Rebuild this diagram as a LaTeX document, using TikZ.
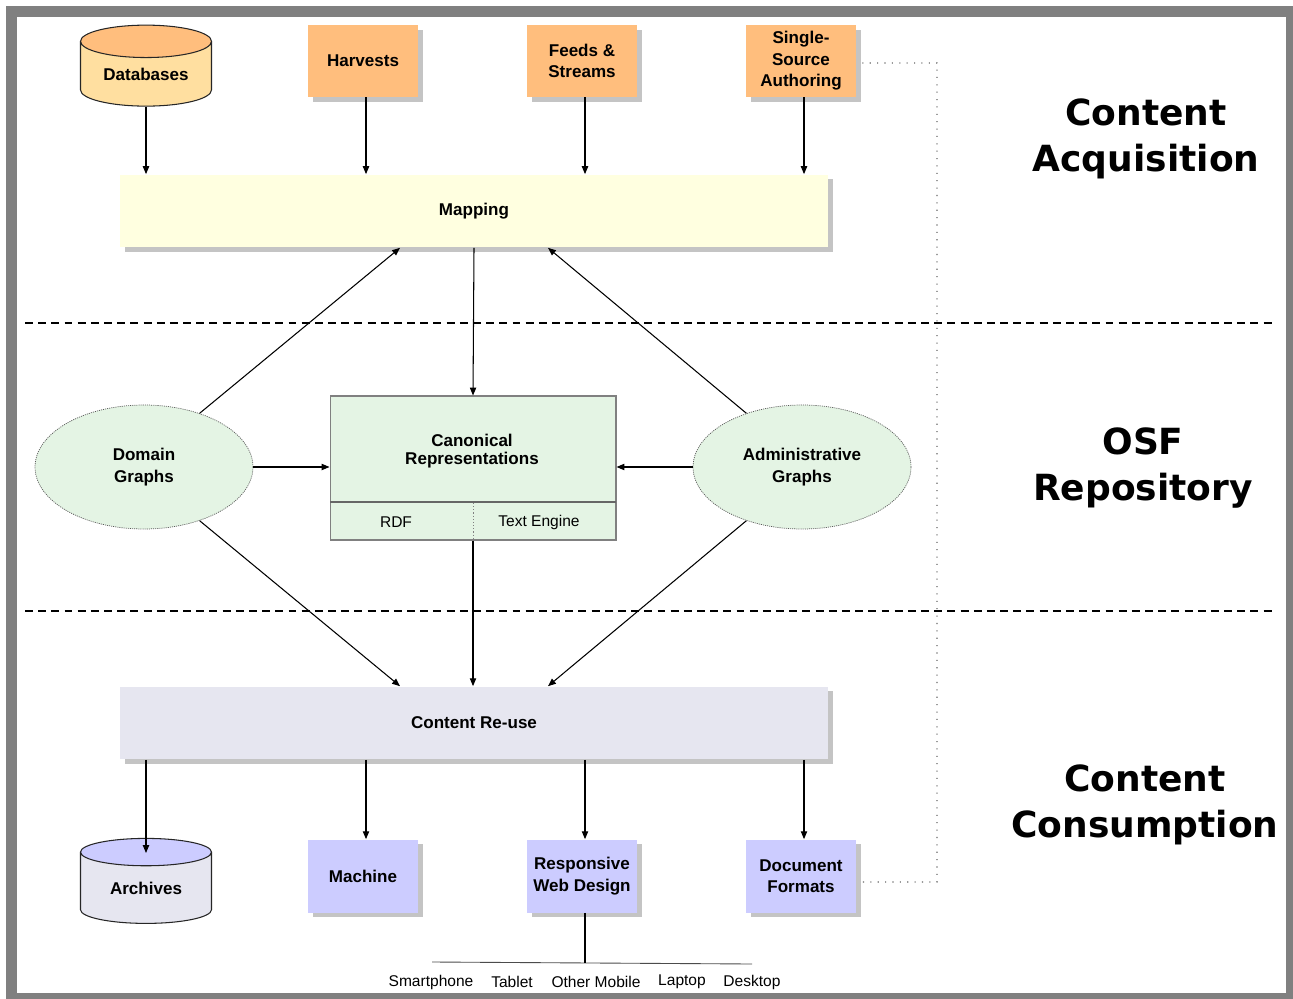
\documentclass[tikz,border=0pt]{standalone}
\usepackage{fontspec}
\setmainfont{Liberation Sans}
\newfontfamily\titlefont{DejaVu Sans}
\usetikzlibrary{arrows.meta,shapes.geometric,shadows}
\definecolor{framegray}{HTML}{808080}
\definecolor{shadowgray}{HTML}{C4C4C4}
\definecolor{srcorange}{HTML}{FFBE7D}
\definecolor{dbbody}{HTML}{FFDFA0}
\definecolor{mapyellow}{HTML}{FFFFE0}
\definecolor{graphgreen}{HTML}{E4F4E4}
\definecolor{reusegray}{HTML}{E6E6F0}
\definecolor{outblue}{HTML}{CCCCFF}
\tikzset{
  lbl/.style={font=\fontsize{9.7}{12.2}\selectfont\bfseries, align=center, inner sep=0pt},
  small/.style={font=\fontsize{8.85}{10.5}\selectfont, inner sep=0pt},
  boxshadow/.style={copy shadow={shadow xshift=2.8pt, shadow yshift=-2.8pt, fill=shadowgray, draw=none}},
  srcbox/.style={lbl, boxshadow, fill=srcorange, minimum width=2.2cm, minimum height=1.44cm},
  outbox/.style={lbl, boxshadow, fill=outblue, minimum width=2.2cm, minimum height=1.46cm},
  stage/.style={lbl, boxshadow, minimum width=14.16cm, minimum height=1.46cm},
  dbcyl/.style={lbl, cylinder, shape border rotate=90, aspect=0.38, draw=black!85, line width=0.6pt,
    cylinder uses custom fill, minimum width=2.62cm, minimum height=1.62cm},
  graphell/.style={lbl, ellipse, fill=graphgreen, draw=black!65, dash pattern=on 0.6pt off 0.6pt,
    minimum width=4.36cm, minimum height=2.48cm},
  flow/.style={-{Triangle[length=4.5pt,width=3.6pt]}, line width=0.6pt},
  zone/.style={line width=1.2pt, dash pattern=on 4.5pt off 3pt},
  linkdots/.style={black!60, line width=0.7pt, dash pattern=on 0.6pt off 3.6pt},
  heading/.style={font=\titlefont\bfseries\fontsize{20.5}{26}\selectfont, align=center}
}
\begin{document}
\begin{tikzpicture}[x=0.02cm,y=-0.02cm]
\useasboundingbox (0,0) rectangle (1293,999);
\fill[framegray] (6,6) rectangle (1293,999);
\fill[white] (17,17) rectangle (1286,993);

\draw[zone] (25,323) -- (1275,323);
\draw[zone] (25,611) -- (1275,611);

\node[dbcyl, cylinder end fill=srcorange, cylinder body fill=dbbody] (db) at (146,74) {Databases};
\node[srcbox] (harv) at (363,61) {Harvests};
\node[srcbox] (feeds) at (582,61) {Feeds \&\\Streams};
\node[srcbox] (ssa) at (801,61) {Single-\\Source\\Authoring};
\node[stage, fill=mapyellow] (map) at (474,211) {Mapping};

\node[graphell] (dom) at (144,467) {Domain\\Graphs};
\node[graphell] (adm) at (802,467) {Administrative\\Graphs};
\node[draw=black!50, line width=0.6pt, fill=graphgreen, minimum width=5.72cm, minimum height=2.88cm] (canon) at (473,468) {};
\node[lbl, font=\fontsize{9.7}{10.4}\selectfont\bfseries] (canontxt) at (472,451) {Canonical\\Representations};
\coordinate (divl) at (330,502);
\coordinate (divr) at (616,502);
\draw[black!60, line width=0.6pt] (divl) -- (divr);
\draw[black!50, line width=0.5pt, dash pattern=on 0.6pt off 1.2pt] (473,503) -- (473,540);
\node[small] (rdf) at (396,522) {RDF};
\node[small] (txteng) at (539,522) {Text Engine};

\node[stage, fill=reusegray] (reuse) at (474,723) {Content Re-use};
\node[dbcyl, cylinder end fill=outblue, cylinder body fill=reusegray, minimum height=1.7cm] (arch) at (146,888) {Archives};
\node[outbox] (mach) at (363,876) {Machine};
\node[outbox] (resp) at (582,876) {Responsive\\Web Design};
\node[outbox] (docf) at (801,876) {Document\\Formats};

\draw[flow] (db.south) -- (db.south |- map.north);
\draw[flow] ([xshift=0.06cm]harv.south) -- ([xshift=0.06cm]harv.south |- map.north);
\draw[flow] ([xshift=0.06cm]feeds.south) -- ([xshift=0.06cm]feeds.south |- map.north);
\draw[flow] ([xshift=0.06cm]ssa.south) -- ([xshift=0.06cm]ssa.south |- map.north);

\draw[flow] (map.south) -- (canon.north);
\draw[flow] (dom.44) -- ([xshift=-1.48cm]map.south);
\draw[flow] (adm.136) -- ([xshift=1.48cm]map.south);
\draw[flow] (dom.east) -- (dom.east -| canon.west);
\draw[flow] (adm.west) -- (adm.west -| canon.east);
\draw[flow] (dom.-44) -- ([xshift=-1.48cm]reuse.north);
\draw[flow] (adm.224) -- ([xshift=1.48cm]reuse.north);
\draw[flow] (canon.south) -- (canon.south |- reuse.north);

\draw[flow] (reuse.south -| arch) -- ([yshift=0.7cm]arch.center);
\draw[flow] ([xshift=0.06cm]reuse.south -| mach) -- ([xshift=0.06cm]mach.north);
\draw[flow] ([xshift=0.06cm]reuse.south -| resp) -- ([xshift=0.06cm]resp.north);
\draw[flow] ([xshift=0.06cm]reuse.south -| docf) -- ([xshift=0.06cm]docf.north);

\coordinate (busl) at (432,962);
\coordinate (busr) at (752,964);
\draw[black!70, line width=0.5pt] (busl) -- (busr);
\draw[line width=0.6pt] ([xshift=0.06cm]resp.south) -- ([xshift=0.06cm]resp.south |- 0,963);
\foreach \x/\t [count=\i] in {431/Smartphone, 512/Tablet, 596/Other Mobile, 682/Laptop, 752/Desktop}
  \node[small] (dev\i) at (\x,982) {\t};

\coordinate (loop) at (937,63);
\draw[linkdots] ([xshift=0.12cm, yshift=-0.04cm]ssa.east) -- (loop) |- ([xshift=0.12cm, yshift=-0.12cm]docf.east);

\node[heading] (acq) at (1146,139) {Content\\Acquisition};
\node[heading] (repo) at (1143,468) {OSF\\Repository};
\node[heading] (cons) at (1145,805) {Content\\Consumption};
\end{tikzpicture}
\end{document}
